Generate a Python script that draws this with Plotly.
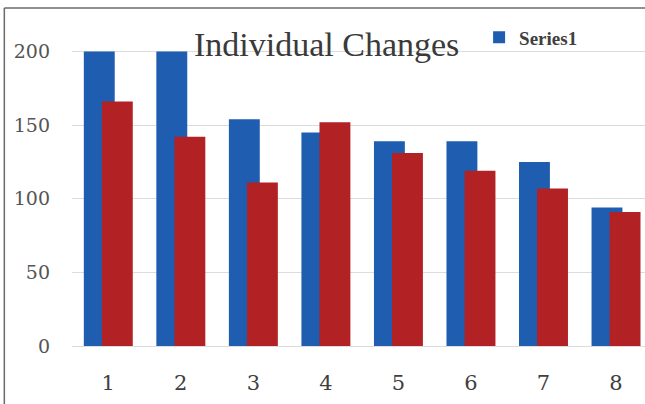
import plotly.graph_objects as go

categories = ["1", "2", "3", "4", "5", "6", "7", "8"]
series1 = [200, 200, 154, 145, 139, 139, 125, 94]
series2 = [166, 142, 111, 152, 131, 119, 107, 91]
title_text = "Individual Changes"

W, H = 645, 404
ML, MR, MT, MB = 71.7, 0, 21.5, 58
PW, PH = W - ML - MR, H - MT - MB

def px_to_paper_x(px):
    return (px - ML) / PW

def px_to_paper_y(py):
    return (H - MB - py) / PH

blue = "#1f5db0"
red = "#b22124"
serif = "Liberation Serif"
tick_serif = "DejaVu Serif"

fig = go.Figure()
fig.add_trace(go.Bar(x=categories, y=series1, name="<b>Series1</b>", marker_color=blue,
                     width=0.426, offset=-0.337, marker_line_width=0, showlegend=True))
fig.add_trace(go.Bar(x=categories, y=series2, name="Series2", marker_color=red,
                     width=0.426, offset=-0.088, marker_line_width=0, showlegend=False))

fig.update_layout(
    width=W, height=H,
    margin=dict(l=ML, r=MR, t=MT, b=MB, pad=0),
    barmode="overlay",
    plot_bgcolor="white", paper_bgcolor="white",
    font=dict(family=serif, color="#595959"),
    showlegend=True,
    legend=dict(x=px_to_paper_x(479), y=px_to_paper_y(18), xanchor="left", yanchor="top",
                font=dict(family=serif, size=19, color="#404040"),
                bgcolor="rgba(0,0,0,0)", itemwidth=30),
    xaxis=dict(type="category", range=[-0.5, 7.4], showgrid=False, showline=False,
               ticks="", tickfont=dict(family=tick_serif, size=21, color="#404040"),
               ticklabelstandoff=22),
    yaxis=dict(range=[0, 220], tickvals=[0, 50, 100, 150, 200], showgrid=True,
               gridcolor="#dcdcdc", gridwidth=1, zeroline=True, zerolinecolor="#dcdcdc",
               zerolinewidth=1, showline=False, ticks="",
               tickfont=dict(family=tick_serif, size=19, color="#555555"), ticklabelstandoff=21),
    annotations=[dict(text=title_text, xref="paper", yref="paper",
                      x=px_to_paper_x(326), y=px_to_paper_y(44), xanchor="center", yanchor="middle",
                      showarrow=False, font=dict(family=serif, size=34, color="#3a3a3a"))],
    shapes=[
        dict(type="line", xref="paper", yref="paper", x0=px_to_paper_x(4), x1=px_to_paper_x(700),
             y0=px_to_paper_y(7.5), y1=px_to_paper_y(7.5), line=dict(color="#6a6a6a", width=1.5)),
        dict(type="line", xref="paper", yref="paper", x0=px_to_paper_x(4), x1=px_to_paper_x(4),
             y0=px_to_paper_y(7.5), y1=px_to_paper_y(450), line=dict(color="#6a6a6a", width=1.5)),
    ],
)

fig.write_html("out.html")
